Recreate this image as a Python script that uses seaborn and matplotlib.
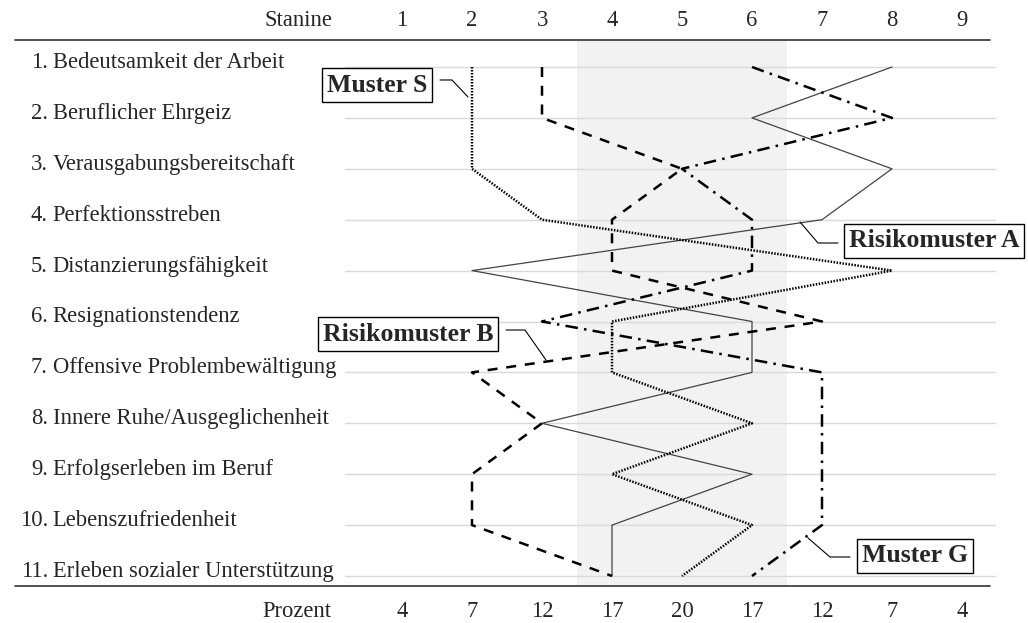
import pandas as pd
import seaborn as sns
import matplotlib.pyplot as plt

# Skalen des AVEM (von oben nach unten)
skalen = ["Bedeutsamkeit der Arbeit", "Beruflicher Ehrgeiz", "Verausgabungsbereitschaft",
          "Perfektionsstreben", "Distanzierungsfähigkeit", "Resignationstendenz",
          "Offensive Problembewältigung", "Innere Ruhe/Ausgeglichenheit",
          "Erfolgserleben im Beruf", "Lebenszufriedenheit", "Erleben sozialer Unterstützung"]
stanine = [1, 2, 3, 4, 5, 6, 7, 8, 9]
prozent = [4, 7, 12, 17, 20, 17, 12, 7, 4]

# Stanine-Werte je Muster, eine Zahl pro Skala
muster_g = [8, 6, 8, 7, 2, 6, 6, 3, 6, 4, 4]
muster_s = [2, 2, 2, 3, 8, 4, 4, 6, 4, 6, 5]
risiko_a = [6, 8, 5, 6, 6, 3, 7, 7, 7, 7, 6]
risiko_b = [3, 3, 5, 4, 4, 7, 2, 3, 2, 2, 4]

zeilen = list(range(1, len(skalen) + 1))
df = pd.concat([
    pd.DataFrame({"Zeile": zeilen, "Stanine": muster_g, "Muster": "Muster G"}),
    pd.DataFrame({"Zeile": zeilen, "Stanine": muster_s, "Muster": "Muster S"}),
    pd.DataFrame({"Zeile": zeilen, "Stanine": risiko_a, "Muster": "Risikomuster A"}),
    pd.DataFrame({"Zeile": zeilen, "Stanine": risiko_b, "Muster": "Risikomuster B"}),
])

sns.set_style("white")
plt.rcParams["font.family"] = ["Liberation Serif", "DejaVu Serif"]

fig = plt.figure(figsize=(10.28, 6.23), dpi=100)
ax = fig.add_axes([0, 0, 1, 1])
# 70 px per stanine, ~51 px per row
ax.set_xlim(1 - 402 / 70, 1 + (1028 - 402) / 70)
ax.set_ylim(1 + (623 - 67) / 50.9, 1 - 67 / 50.9)
ax.axis("off")

# grey band (average range)
ax.fill_between([3.5, 6.5], 0.47, 11.196, color="#f2f2f2", zorder=0, lw=0)

# row grid lines
for z in zeilen:
    ax.plot([0.19, 9.47], [z, z], color="#d9d9d9", lw=1, zorder=1)

# top and bottom rules
ax.plot([-4.53, 9.4], [0.47, 0.47], color="#333333", lw=1.2)
ax.plot([-4.53, 9.4], [11.196, 11.196], color="#333333", lw=1.2)

fs = 16.3
ax.text(0, 0.077, "Stanine", ha="right", va="center", fontsize=fs)
ax.text(0, 11.707, "Prozent", ha="right", va="center", fontsize=fs)
for s, p in zip(stanine, prozent):
    ax.text(s, 0.077, str(s), ha="center", va="center", fontsize=fs)
    ax.text(s, 11.707, str(p), ha="center", va="center", fontsize=fs)

for z, name in zip(zeilen, skalen):
    ax.text(-4.06, z - 0.09, f"{z}.", ha="right", va="center", fontsize=fs)
    ax.text(-3.99, z - 0.09, name, ha="left", va="center", fontsize=fs)

stile = {
    "Muster G": dict(lw=0.9, color="#444444", dashes=()),
    "Muster S": dict(lw=1.8, color="black", dashes=(0.6, 0.6)),
    "Risikomuster A": dict(lw=1.8, color="black", dashes=(5, 2.5, 1, 2.5)),
    "Risikomuster B": dict(lw=1.8, color="black", dashes=(4, 3.5)),
}
for name, st in stile.items():
    sns.lineplot(data=df[df["Muster"] == name], x="Stanine", y="Zeile", sort=False,
                 estimator=None, ax=ax, color=st["color"], lw=st["lw"],
                 dashes=st["dashes"] if st["dashes"] else None, legend=False, zorder=3)

box = dict(boxstyle="square,pad=0.2", fc="white", ec="black", lw=1)
labels = [
    ("Muster S", 0.643, 1.354, [(1.543, 1.255), (1.714, 1.255), (1.943, 1.589)]),
    ("Risikomuster A", 8.6, 4.418, [(7.229, 4.458), (6.943, 4.458), (6.686, 4.045)]),
    ("Risikomuster B", 1.086, 6.246, [(2.486, 6.167), (2.757, 6.167), (3.057, 6.756)]),
    ("Muster G", 8.329, 10.607, [(7.4, 10.627), (7.114, 10.627), (6.8, 10.253)]),
]
for txt, x, y, pts in labels:
    ax.text(x, y, txt, ha="center", va="center", fontsize=18.5, fontweight="bold",
            bbox=box, zorder=5)
    ax.plot([p[0] for p in pts], [p[1] for p in pts], color="black", lw=0.8, zorder=4)

fig.savefig("out.png", dpi=100)
